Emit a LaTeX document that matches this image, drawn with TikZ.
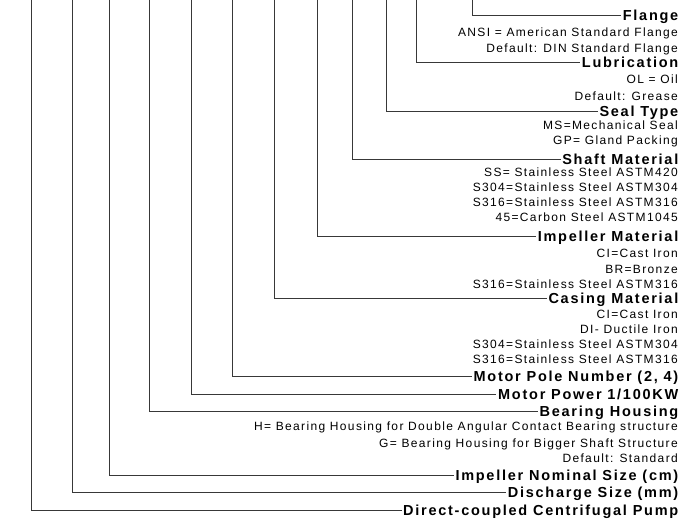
\documentclass[tikz,border=0pt]{standalone}
\usepackage{fontspec}
\setmainfont{Liberation Sans}
\newfontfamily\regfont{Liberation Sans}[LetterSpace=11.3]
\newfontfamily\headfont{Liberation Sans}[LetterSpace=12]
\begin{document}
\begin{tikzpicture}[x=1pt,y=-1pt,
  lead/.style={draw=black!78, line width=0.9pt},
  head/.style={anchor=east, font=\headfont\fontsize{14.5}{16}\selectfont\bfseries, inner xsep=1.5pt, inner ysep=0pt, text height=10.4pt, text depth=0pt},
  desc/.style={anchor=base east, font=\regfont\fontsize{12}{14}\selectfont, inner sep=0pt}]
\useasboundingbox (0,0) rectangle (691,519);
% headings
\node[head] (flange) at (680,15) {Flange};
\node[head] (lub) at (680,62) {Lubrication};
\node[head] (seal) at (680,111) {Seal Type};
\node[head] (shaft) at (680,159) {Shaft Material};
\node[head] (imat) at (680,236) {Impeller Material};
\node[head] (casing) at (680,298.5) {Casing Material};
\node[head] (pole) at (680,376.5) {Motor Pole Number (2, 4)};
\node[head] (power) at (680,394.5) {Motor Power 1/100KW};
\node[head] (bear) at (680,411.5) {Bearing Housing};
\node[head] (isize) at (680,475.7) {Impeller Nominal Size (cm)};
\node[head] (dis) at (680,492.5) {Discharge Size (mm)};
\node[head] (pump) at (680,510) {Direct-coupled Centrifugal Pump};
% descriptions
\node[desc] (d1) at (678,36.5) {ANSI = American Standard Flange};
\node[desc] (d2) at (678,52.5) {Default: DIN Standard Flange};
\node[desc] (d3) at (678,83.5) {OL = Oil};
\node[desc] (d4) at (678,100) {Default: Grease};
\node[desc] (d5) at (678,129) {MS=Mechanical Seal};
\node[desc] (d6) at (678,144.5) {GP= Gland Packing};
\node[desc] (d7) at (678,176) {SS= Stainless Steel ASTM420};
\node[desc] (d8) at (678,191.5) {S304=Stainless Steel ASTM304};
\node[desc] (d9) at (678,206.5) {S316=Stainless Steel ASTM316};
\node[desc] (d10) at (678,221.5) {45=Carbon Steel ASTM1045};
\node[desc] (d11) at (678,257.7) {CI=Cast Iron};
\node[desc] (d12) at (678,273.5) {BR=Bronze};
\node[desc] (d13) at (678,288.7) {S316=Stainless Steel ASTM316};
\node[desc] (d14) at (678,318.7) {CI=Cast Iron};
\node[desc] (d15) at (678,333.7) {DI- Ductile Iron};
\node[desc] (d16) at (678,348.7) {S304=Stainless Steel ASTM304};
\node[desc] (d17) at (678,363.7) {S316=Stainless Steel ASTM316};
\node[desc] (d18) at (678,430.4) {H= Bearing Housing for Double Angular Contact Bearing structure};
\node[desc] (d19) at (678,447) {G= Bearing Housing for Bigger Shaft Structure};
\node[desc] (d20) at (678,462.7) {Default: Standard};
% leader tops
\coordinate (t1) at (31,0);
\coordinate (t2) at (72,0);
\coordinate (t3) at (109,0);
\coordinate (t4) at (149,0);
\coordinate (t5) at (191,0);
\coordinate (t6) at (232,0);
\coordinate (t7) at (274,0);
\coordinate (t8) at (317,0);
\coordinate (t9) at (352,0);
\coordinate (t10) at (386,0);
\coordinate (t11) at (416,0);
\coordinate (t12) at (472,0);
% leaders
\draw[lead] (t1) |- (pump.west);
\draw[lead] (t2) |- (dis.west);
\draw[lead] (t3) |- (isize.west);
\draw[lead] (t4) |- (bear.west);
\draw[lead] (t5) |- (power.west);
\draw[lead] (t6) |- (pole.west);
\draw[lead] (t7) |- (casing.west);
\draw[lead] (t8) |- (imat.west);
\draw[lead] (t9) |- (shaft.west);
\draw[lead] (t10) |- (seal.west);
\draw[lead] (t11) |- (lub.west);
\draw[lead] (t12) |- (flange.west);
\end{tikzpicture}
\end{document}
